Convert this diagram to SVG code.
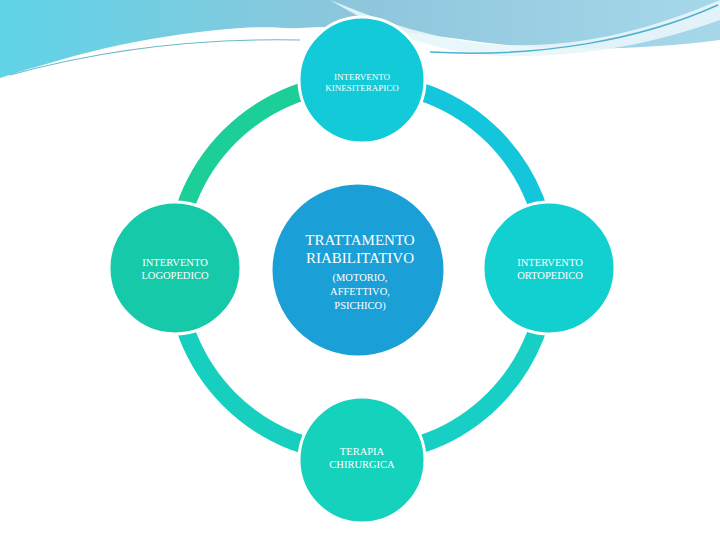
<svg xmlns="http://www.w3.org/2000/svg" width="720" height="540" viewBox="0 0 720 540">
<defs>
<linearGradient id="bg" x1="0" y1="0" x2="1" y2="0"><stop offset="0" stop-color="#5fd3e6"/><stop offset="0.5" stop-color="#8fc6dc"/><stop offset="1" stop-color="#a6d8ea"/></linearGradient>
<style>
.t{font-family:"Liberation Serif",serif;fill:#fff;text-anchor:middle}
.arc{fill:none;stroke-width:18}
.c{stroke:#fff;stroke-width:3}
</style>
</defs>
<rect width="720" height="540" fill="#fff"/>
<path d="M0,0H720V40C640,50 560,52 480,42 420,34 360,24 300,28 200,34 80,50 0,78Z" fill="url(#bg)"/>
<path d="M0,80C80,50 160,34 240,28 300,24 340,36 360,40 300,30 200,36 120,52 60,64 20,74 0,80Z" fill="#fff"/>
<path d="M330,0C380,20 430,40 500,45 580,48 650,30 720,0V20C650,45 580,58 500,56 430,52 380,30 330,0Z" fill="#e8f6fa" opacity="0.9"/>
<path d="M10,75C100,50 200,38 300,40" stroke="#6bb8cc" stroke-width="1.2" fill="none"/>
<path d="M430,52C540,58 640,40 718,5" stroke="#4fb0d0" stroke-width="1.5" fill="none"/>
<g id="connectors">
<path class="arc" d="M175,268A186,186 0 0 1 362,82" stroke="#1ccf98"/>
<path class="arc" d="M362,82A186,186 0 0 1 548,268" stroke="#14c6dc"/>
<path class="arc" d="M548,268A186,186 0 0 1 362,454" stroke="#18cfc6"/>
<path class="arc" d="M362,454A186,186 0 0 1 175,268" stroke="#16cfbe"/>
</g>
<g id="center"><circle class="c" cx="358" cy="270" r="87" fill="#1a9fd6"/>
<text class="t" x="360" y="245" font-size="15">TRATTAMENTO</text>
<text class="t" x="360" y="263" font-size="15">RIABILITATIVO</text>
<text class="t" x="360" y="281" font-size="10.5">(MOTORIO,</text>
<text class="t" x="360" y="295" font-size="10.5">AFFETTIVO,</text>
<text class="t" x="360" y="309" font-size="10.5">PSICHICO)</text></g>
<g id="top"><circle class="c" cx="362" cy="80" r="63" fill="#12cad8"/>
<text class="t" x="362" y="80" font-size="9">INTERVENTO</text>
<text class="t" x="362" y="91" font-size="9">KINESITERAPICO</text></g>
<g id="left"><circle class="c" cx="175" cy="268" r="66" fill="#16c9a8"/>
<text class="t" x="175" y="266" font-size="10.5">INTERVENTO</text>
<text class="t" x="175" y="279" font-size="10.5">LOGOPEDICO</text></g>
<g id="right"><circle class="c" cx="549" cy="268" r="66" fill="#12d0d0"/>
<text class="t" x="550" y="266" font-size="10.5">INTERVENTO</text>
<text class="t" x="550" y="279" font-size="10.5">ORTOPEDICO</text></g>
<g id="bottom"><circle class="c" cx="362" cy="460" r="63" fill="#14d2bc"/>
<text class="t" x="362" y="455" font-size="10.5">TERAPIA</text>
<text class="t" x="362" y="468" font-size="10.5">CHIRURGICA</text></g>
</svg>
